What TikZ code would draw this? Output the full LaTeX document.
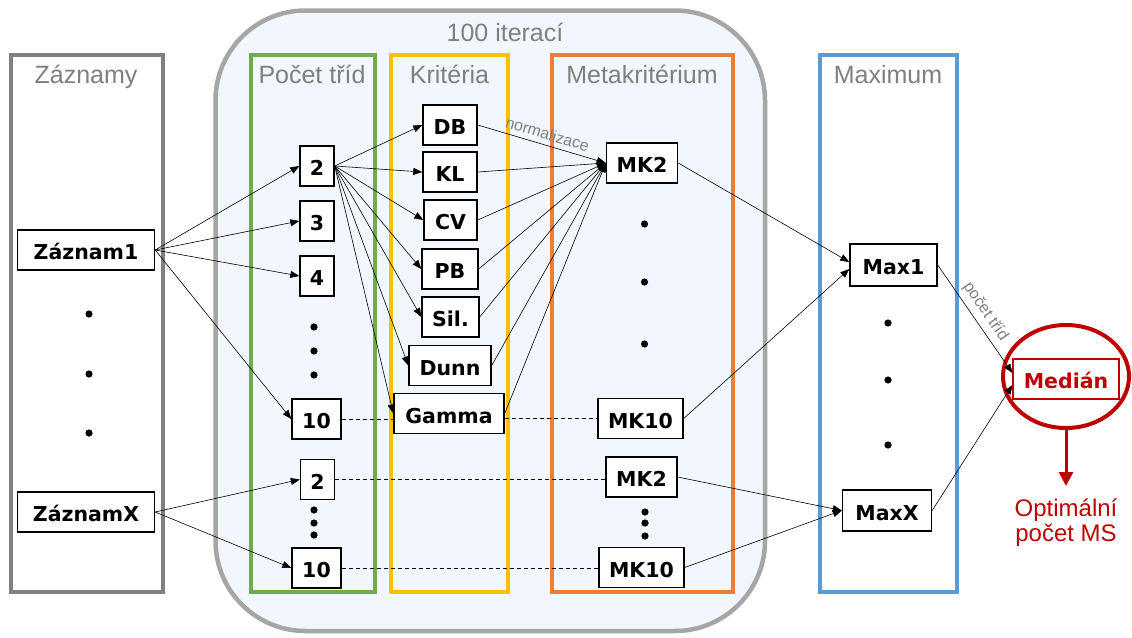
\documentclass[tikz,border=0pt]{standalone}
\usepackage{fontspec}
\setmainfont{Liberation Sans}
\newfontfamily\nodefont{DejaVu Sans}
\usetikzlibrary{arrows.meta,shapes.geometric}
\definecolor{headgray}{HTML}{7F7F7F}
\definecolor{biggray}{HTML}{A6A6A6}
\definecolor{bigfill}{HTML}{F1F7FD}
\definecolor{zgray}{HTML}{808080}
\definecolor{pgreen}{HTML}{70AD47}
\definecolor{kyellow}{HTML}{FFC000}
\definecolor{morange}{HTML}{ED7D31}
\definecolor{mblue}{HTML}{5B9BD5}
\definecolor{medred}{HTML}{C00000}
\tikzset{
  nbox/.style={draw=black, line width=1.4pt, fill=white, inner sep=0pt,
    minimum height=40pt, text height=19pt, text depth=0pt,
    font=\nodefont\bfseries\fontsize{20.5}{24}\selectfont},
  frm/.style={line width=4pt},
  head/.style={text=headgray, anchor=base, inner sep=0pt, font=\fontsize{25}{28}\selectfont},
  conn/.style={line width=0.6pt, -{Triangle[length=9pt,width=7pt]}},
  dashline/.style={line width=0.8pt, dash pattern=on 4pt off 3pt},
  elabel/.style={text=headgray, inner sep=1pt, font=\fontsize{16}{17}\selectfont},
  bullet/.style={fill=black}
}
\begin{document}
\begin{tikzpicture}[x=1pt,y=-1pt]
\useasboundingbox (0,0) rectangle (1132,637);
\fill[white] (0,0) rectangle (1132,637);

% big rounded frame
\draw[biggray, line width=4.5pt, fill=bigfill, rounded corners=90pt] (215.5,10.5) rectangle (765,631);
\node[head] (iter) at (505,41) {100 iterací};

% column frames
\draw[frm, draw=zgray, fill=white] (11,55) rectangle (162.5,592);
\draw[frm, draw=pgreen] (250.5,55) rectangle (374.5,592);
\draw[frm, draw=kyellow] (391,55) rectangle (508,592);
\draw[frm, draw=morange] (552,55) rectangle (732.7,592);
\draw[frm, draw=mblue, fill=white] (820,55) rectangle (956.5,592);

\node[head] (hz) at (86,83.5) {Záznamy};
\node[head] (hp) at (312,83.5) {Počet tříd};
\node[head] (hk) at (449.5,83.5) {Kritéria};
\node[head] (hm) at (642,83.5) {Metakritérium};
\node[head] (hx) at (888,83.5) {Maximum};

% median ellipse
\node[ellipse, draw=medred, line width=4pt, minimum width=126pt, minimum height=103pt, inner sep=0pt] (circ) at (1066,376.5) {};

% dots
\foreach \p in {(89,314),(89,374),(89,433),
                (314,327),(314,351),(314,375),(314,510),(314,523),(314,535),
                (644.5,224),(644.5,282),(644.5,344),(645,512),(645,523),(645,536),
                (888,323),(888,380),(888,445)}
  \fill[bullet] \p circle (3.6pt);

% nodes
\node[nbox, minimum width=137pt] (z1) at (86,250) {Záznam1};
\node[nbox, minimum width=137pt] (zx) at (86,512) {ZáznamX};

\node[nbox, minimum width=34pt] (n2a) at (317,166) {2};
\node[nbox, minimum width=34pt] (n3) at (317,221) {3};
\node[nbox, minimum width=34pt] (n4) at (317,276) {4};
\node[nbox, minimum width=49pt] (n10a) at (316.5,419) {10};
\node[nbox, minimum width=34pt] (n2b) at (317.5,479.5) {2};
\node[nbox, minimum width=49pt] (n10b) at (316.5,568) {10};

\node[nbox, minimum width=54pt] (db) at (450,125) {DB};
\node[nbox, minimum width=54pt] (kl) at (450,172) {KL};
\node[nbox, minimum width=53pt] (cv) at (450.5,220) {CV};
\node[nbox, minimum width=56pt] (pb) at (450,269) {PB};
\node[nbox, minimum width=57pt] (sil) at (450.5,317) {Sil.};
\node[nbox, minimum width=82pt] (dunn) at (450,365.5) {Dunn};
\node[nbox, minimum width=110pt] (gamma) at (449,413.5) {Gamma};

\node[nbox, minimum width=71pt] (mk2a) at (642,163) {MK2};
\node[nbox, minimum width=85pt] (mk10a) at (640.5,418.5) {MK10};
\node[nbox, minimum width=71pt] (mk2b) at (641.5,477) {MK2};
\node[nbox, minimum width=85pt] (mk10b) at (641.5,567.5) {MK10};

\node[nbox, minimum width=87pt, minimum height=42pt] (max1) at (893.5,265) {Max1};
\node[nbox, minimum width=89pt, minimum height=41pt] (maxx) at (887,510.5) {MaxX};

\node[nbox, draw=medred, text=medred, line width=1.2pt, minimum width=106pt] (med) at (1066,379) {Medián};

% connectors: records -> classes
\foreach \t in {n2a,n3,n4,n10a} \draw[conn] (z1.east) -- (\t.west);
\foreach \t in {n2b,n10b} \draw[conn] (zx.east) -- (\t.west);

% class 2 -> criteria
\foreach \t in {db,kl,cv,pb,sil,dunn,gamma} \draw[conn] (n2a.east) -- (\t.west);

% criteria -> MK2
\draw[conn] (db.east) -- node[elabel, sloped, above=4pt, pos=0.52] (norm) {normalizace} (mk2a.west);
\foreach \s in {kl,cv,pb,sil,dunn,gamma} \draw[conn] (\s.east) -- (mk2a.west);

% dashed links
\draw[dashline] (n10a.east) -- (n10a.east -| gamma.west);
\draw[dashline] (gamma.east |- mk10a.west) -- (mk10a.west);
\draw[dashline] (n2b.east) -- (n2b.east -| mk2b.west);
\draw[dashline] (n10b.east) -- (n10b.east -| mk10b.west);

% MK -> Max
\draw[conn] (mk2a.east) -- ([yshift=3pt]max1.west);
\draw[conn] (mk10a.east) -- ([yshift=-4pt]max1.west);
\draw[conn] (mk2b.east) -- (maxx.west);
\draw[conn] (mk10b.east) -- (maxx.west);

% Max -> Median
\draw[conn] (max1.east) -- node[elabel, sloped, above=4pt, pos=0.5] (pt) {počet tříd} ([yshift=6pt]med.west);
\draw[conn] (maxx.east) -- ([yshift=-6pt]med.west);

% result
\node[text=medred, align=center, inner sep=0pt, font=\fontsize{24}{25}\selectfont] (opt) at (1066,523) {Optimální\\počet MS};
\coordinate (optarr) at (1066,486);
\draw[medred, line width=3pt, -{Triangle[length=14pt,width=14pt]}] (circ.south) -- (optarr);
\end{tikzpicture}
\end{document}
